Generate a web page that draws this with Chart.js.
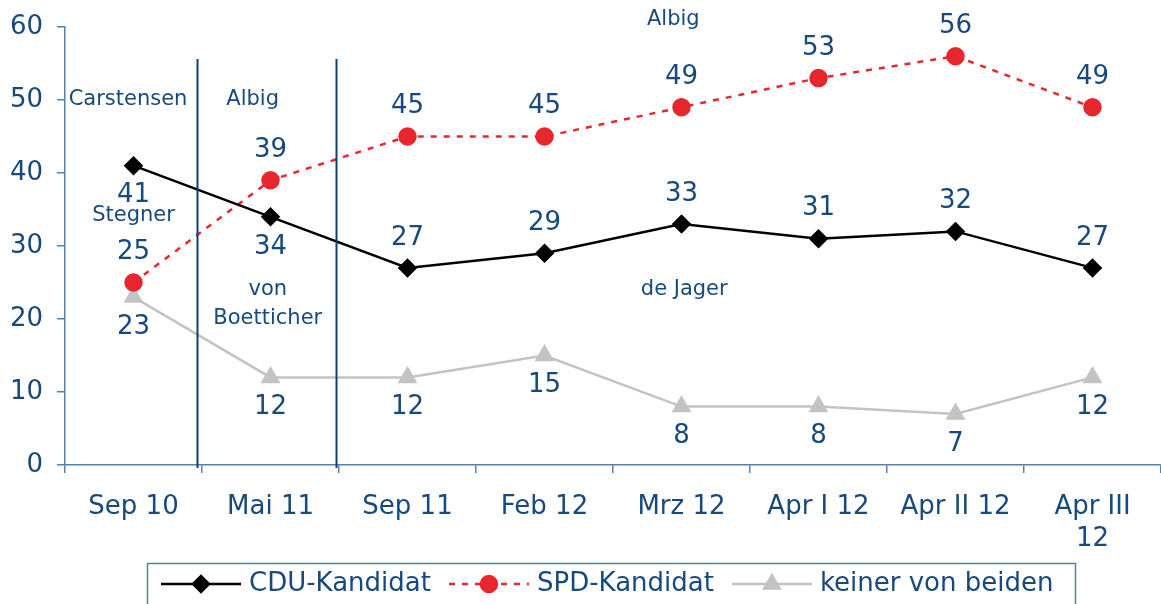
<!DOCTYPE html>
<html>
<head>
<meta charset="utf-8">
<script src="https://cdn.jsdelivr.net/npm/chart.js@4"></script>
<style>
  html, body { margin: 0; padding: 0; background: #fff; }
  #wrap { width: 1161px; height: 604px; }
</style>
</head>
<body>
<div id="wrap"><canvas id="myChart" width="1161" height="604"></canvas></div>
<script>
const labels = ["Sep 10", "Mai 11", "Sep 11", "Feb 12", "Mrz 12", "Apr I 12", "Apr II 12", ["Apr III", "12"]];
const cdu = [41, 34, 27, 29, 33, 31, 32, 27];
const spd = [25, 39, 45, 45, 49, 53, 56, 49];
const keiner = [23, 12, 12, 15, 8, 8, 7, 12];
// where the value label goes: 1 = above, -1 = below
const cduSide = [-1, -1, 1, 1, 1, 1, 1, 1];
const spdSide = [1, 1, 1, 1, 1, 1, 1, 1];
const keinerSide = [-1, -1, -1, -1, -1, -1, -1, -1];

// candidate names, [x index, y value, text]
const notes = [
  [-0.04, 50, "Carstensen"],
  [0.87, 50, "Albig"],
  [0, 34.2, "Stegner"],
  [0.98, 24, "von"],
  [0.98, 20.1, "Boetticher"],
  [3.94, 61, "Albig"],
  [4.02, 24, "de Jager"],
];
// separators between the periods (x index)
const dividers = [0.46, 1.48];

const TEXT = "#164a7e";
const AXIS = "#5680ad";
const FONT = "'DejaVu Sans', Verdana, sans-serif";

const extras = {
  id: "extras",
  afterDatasetsDraw(chart) {
    const ctx = chart.ctx;
    const xs = chart.scales.x, ys = chart.scales.y;
    ctx.save();
    // divider lines
    ctx.strokeStyle = "#0f3f75";
    ctx.lineWidth = 2;
    dividers.forEach(d => {
      const px = Math.round(xs.getPixelForValue(d)) + 0.5;
      ctx.beginPath();
      ctx.moveTo(px, ys.getPixelForValue(55.6));
      ctx.lineTo(px, ys.getPixelForValue(0) + 3);
      ctx.stroke();
    });
    // names
    ctx.fillStyle = TEXT;
    ctx.font = "21px " + FONT;
    ctx.textAlign = "center";
    ctx.textBaseline = "middle";
    notes.forEach(n => {
      ctx.fillText(n[2], xs.getPixelForValue(n[0]), ys.getPixelForValue(n[1]));
    });
    // value labels
    ctx.font = "26px " + FONT;
    chart.data.datasets.forEach((ds, i) => {
      const meta = chart.getDatasetMeta(i);
      meta.data.forEach((pt, j) => {
        const off = ds.sides[j] > 0 ? -30 : 30;
        ctx.fillText(String(ds.data[j]), pt.x, pt.y + off);
      });
    });
    ctx.restore();
  },
  afterDraw(chart) {
    const ctx = chart.ctx;
    ctx.save();
    const top = 563, left = 147, right = 1075;
    ctx.strokeStyle = AXIS;
    ctx.lineWidth = 1.5;
    ctx.strokeRect(left + 0.5, top + 0.5, right - left, 60);
    ctx.font = "26px " + FONT;
    ctx.textBaseline = "middle";
    ctx.textAlign = "left";
    let x = left + 14;
    const y = 584;
    chart.data.datasets.forEach(ds => {
      ctx.strokeStyle = ds.borderColor;
      ctx.lineWidth = ds.borderWidth;
      ctx.setLineDash(ds.borderDash || []);
      ctx.beginPath();
      ctx.moveTo(x, y);
      ctx.lineTo(x + 80, y);
      ctx.stroke();
      ctx.setLineDash([]);
      Chart.helpers.drawPoint(ctx, {
        pointStyle: ds.pointStyle, radius: ds.pointRadius, rotation: 0, borderWidth: 1
      }, x + 40, y);
      ctx.fillStyle = ds.pointBackgroundColor;
      ctx.fill();
      ctx.fillStyle = TEXT;
      ctx.fillText(ds.label, x + 88, y);
      x += 88 + ctx.measureText(ds.label).width + 18;
    });
    ctx.restore();
  }
};

new Chart(document.getElementById("myChart"), {
  type: "line",
  data: {
    labels: labels,
    datasets: [
      {
        label: "CDU-Kandidat",
        data: cdu,
        sides: cduSide,
        borderColor: "#000000",
        backgroundColor: "#000000",
        pointBackgroundColor: "#000000",
        pointBorderColor: "#000000",
        borderWidth: 2.5,
        pointStyle: "rectRot",
        pointRadius: 8,
        pointHoverRadius: 8,
        tension: 0,
      },
      {
        label: "SPD-Kandidat",
        data: spd,
        sides: spdSide,
        borderColor: "#e8262d",
        backgroundColor: "#e8262d",
        pointBackgroundColor: "#e8262d",
        pointBorderColor: "#e8262d",
        borderWidth: 2.5,
        borderDash: [6, 7],
        pointStyle: "circle",
        pointRadius: 8,
        pointHoverRadius: 8,
        tension: 0,
      },
      {
        label: "keiner von beiden",
        data: keiner,
        sides: keinerSide,
        borderColor: "#c3c3c3",
        backgroundColor: "#c3c3c3",
        pointBackgroundColor: "#c3c3c3",
        pointBorderColor: "#c3c3c3",
        borderWidth: 2.5,
        pointStyle: "triangle",
        pointRadius: 9,
        pointHoverRadius: 9,
        tension: 0,
      },
    ],
  },
  options: {
    responsive: false,
    animation: false,
    layout: { autoPadding: false, padding: { top: 27, left: 8, right: 0, bottom: 0 } },
    plugins: {
      legend: { display: false },
      tooltip: { enabled: false },
    },
    scales: {
      x: {
        offset: true,
        afterFit(s) { s.height = 139; s.paddingLeft = 0; s.paddingRight = 0; },
        grid: { offset: true, drawOnChartArea: false, tickLength: 8, color: AXIS, lineWidth: 1.5 },
        border: { color: AXIS, width: 1.5 },
        ticks: { color: TEXT, font: { family: FONT, size: 26 }, padding: 19, maxRotation: 0, autoSkip: false },
      },
      y: {
        min: 0,
        max: 60,
        afterFit(s) { s.width = 57; s.paddingTop = 0; s.paddingBottom = 0; },
        grid: { drawOnChartArea: false, tickLength: 8, color: AXIS, lineWidth: 1.5 },
        border: { color: AXIS, width: 1.5 },
        ticks: { stepSize: 10, color: TEXT, font: { family: FONT, size: 26 }, padding: 14 },
      },
    },
  },
  plugins: [extras],
});
</script>
</body>
</html>
